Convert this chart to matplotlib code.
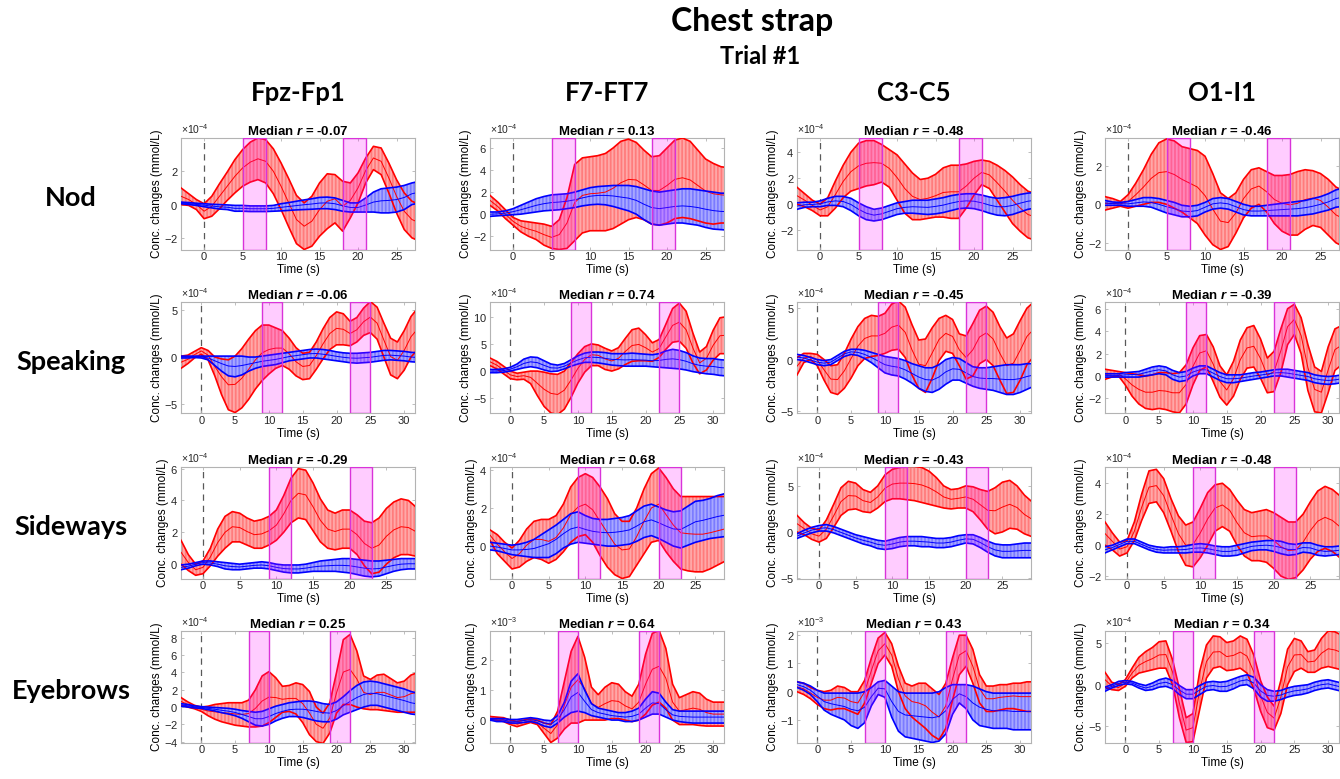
import numpy as np
import matplotlib.pyplot as plt

plt.rcParams['font.family'] = ['Liberation Sans', 'DejaVu Sans']
plt.rcParams['axes.unicode_minus'] = False
plt.rcParams['mathtext.fontset'] = 'custom'
plt.rcParams['mathtext.rm'] = 'Liberation Sans'
plt.rcParams['mathtext.it'] = 'Liberation Sans:italic:bold'
plt.rcParams['hatch.linewidth'] = 0.5

# time grids (s)
t_nod = np.arange(-3, 29)
t_speak = np.arange(-3, 33)
t_side = np.arange(-3, 30)
t_brow = np.arange(-3, 33)

# ---- Nod (x1e-4) ----
nod_fpz_red_lo = [0.0, -0.05, -0.3, -0.85, -0.7, -0.25, 0.25, 0.7, 1.1, 1.35, 1.5, 1.3, 0.65, -0.3, -1.35, -2.35, -2.7, -2.5, -1.9, -1.45, -1.1, -1.6, -0.8, 0.1, 1.3, 2.1, 1.8, 0.7, -0.5, -1.5, -2.0, -2.2]
nod_fpz_red_hi = [1.0, 0.65, 0.3, 0.05, 0.5, 1.25, 1.95, 2.7, 3.3, 3.75, 4.0, 3.9, 3.35, 2.5, 1.55, 0.55, 0.1, 0.5, 1.3, 1.85, 1.8, 1.4, 1.3, 1.9, 2.8, 3.5, 3.4, 2.5, 1.5, 0.7, 0.2, 0.0]
nod_fpz_blue_lo = [0.05, 0.0, -0.05, -0.13, -0.2, -0.27, -0.3, -0.4, -0.4, -0.42, -0.42, -0.42, -0.4, -0.38, -0.35, -0.32, -0.3, -0.28, -0.25, -0.25, -0.3, -0.4, -0.45, -0.45, -0.45, -0.45, -0.5, -0.5, -0.45, -0.3, 0.0, 0.1]
nod_fpz_blue_hi = [0.15, 0.12, 0.08, 0.05, 0.02, 0.0, -0.02, -0.05, -0.05, -0.08, -0.08, -0.08, -0.05, 0.05, 0.12, 0.2, 0.28, 0.35, 0.43, 0.45, 0.4, 0.25, 0.1, 0.1, 0.4, 0.75, 0.95, 1.0, 1.05, 1.15, 1.3, 1.4]

nod_f7_red_lo = [0.8, 0.3, -0.4, -1.0, -1.6, -2.0, -2.3, -2.8, -3.1, -3.2, -3.1, -2.4, -1.7, -1.5, -1.5, -1.5, -1.3, -0.9, -0.5, -0.3, -0.5, -0.9, -1.0, -0.8, -0.4, -0.3, -0.4, -0.6, -0.8, -0.9, -0.8, -0.8]
nod_f7_red_hi = [1.7, 1.1, 0.4, -0.3, -0.6, -0.7, -0.8, -0.9, -1.1, -0.5, 1.5, 4.5, 5.1, 5.2, 5.3, 5.5, 6.0, 6.6, 6.8, 6.5, 5.8, 5.2, 5.3, 6.0, 6.7, 6.9, 6.6, 5.8, 5.0, 4.6, 4.3, 4.2]
nod_f7_blue_lo = [-0.2, -0.15, -0.1, -0.05, 0.0, 0.1, 0.2, 0.3, 0.35, 0.4, 0.5, 0.6, 0.75, 0.85, 0.9, 0.85, 0.7, 0.5, 0.3, 0.0, -0.5, -0.9, -1.0, -0.9, -0.8, -0.8, -0.9, -1.0, -1.2, -1.35, -1.4, -1.45]
nod_f7_blue_hi = [0.2, 0.2, 0.3, 0.5, 0.8, 1.1, 1.4, 1.6, 1.75, 1.8, 1.85, 2.0, 2.2, 2.4, 2.5, 2.55, 2.6, 2.6, 2.6, 2.5, 2.3, 2.1, 2.0, 2.1, 2.2, 2.3, 2.3, 2.2, 2.1, 2.0, 1.9, 1.9]

nod_c3_red_lo = [0.0, -0.2, -0.5, -0.9, -0.9, -0.3, 0.5, 1.0, 1.2, 1.4, 1.5, 1.7, 1.3, 0.3, -0.7, -1.2, -1.2, -1.1, -1.0, -1.0, -1.1, -1.1, -0.3, 0.7, 1.5, 1.2, 0.3, -0.6, -1.5, -2.1, -2.6, -2.8]
nod_c3_red_hi = [1.3, 0.8, 0.3, 0.0, 0.5, 1.8, 3.0, 4.0, 4.7, 4.9, 4.9, 4.6, 4.2, 3.8, 3.1, 2.4, 1.9, 2.0, 2.3, 2.8, 3.0, 3.0, 3.1, 3.3, 3.4, 3.3, 3.0, 2.6, 2.1, 1.5, 1.0, 0.8]
nod_c3_blue_lo = [-0.4, -0.25, -0.2, -0.2, -0.1, -0.1, -0.2, -0.5, -0.9, -1.2, -1.3, -1.2, -1.0, -0.8, -0.7, -0.7, -0.75, -0.8, -0.75, -0.65, -0.5, -0.35, -0.3, -0.35, -0.5, -0.7, -0.85, -0.9, -0.8, -0.6, -0.4, -0.3]
nod_c3_blue_hi = [0.1, 0.15, 0.15, 0.25, 0.45, 0.6, 0.6, 0.45, 0.1, -0.2, -0.4, -0.3, -0.1, 0.1, 0.2, 0.3, 0.3, 0.3, 0.4, 0.5, 0.65, 0.75, 0.8, 0.8, 0.7, 0.55, 0.45, 0.5, 0.6, 0.75, 0.85, 0.9]

nod_o1_red_lo = [-0.3, -0.2, -0.1, -0.2, -0.1, 0.0, 0.1, 0.1, 0.0, -0.2, -0.4, -0.7, -1.0, -1.6, -2.1, -2.35, -2.2, -1.5, -0.7, -0.2, 0.0, -0.4, -1.0, -1.4, -1.6, -1.6, -1.3, -1.1, -1.2, -1.6, -2.0, -2.2]
nod_o1_red_hi = [0.4, 0.3, 0.15, 0.5, 1.1, 1.8, 2.6, 3.2, 3.4, 3.3, 3.0, 2.9, 2.8, 2.5, 1.6, 0.6, 0.3, 0.6, 1.3, 1.8, 1.9, 1.7, 1.5, 1.5, 1.55, 1.7, 1.8, 1.75, 1.6, 1.3, 0.9, 0.7]
nod_o1_blue_lo = [-0.05, -0.05, -0.05, -0.1, -0.1, -0.1, -0.15, -0.3, -0.45, -0.55, -0.65, -0.65, -0.6, -0.4, -0.25, -0.2, -0.25, -0.4, -0.55, -0.6, -0.6, -0.6, -0.6, -0.6, -0.6, -0.6, -0.55, -0.5, -0.4, -0.3, -0.15, -0.1]
nod_o1_blue_hi = [0.2, 0.12, 0.1, 0.15, 0.25, 0.35, 0.35, 0.3, 0.2, 0.1, -0.05, -0.1, -0.05, 0.1, 0.3, 0.35, 0.3, 0.15, 0.0, -0.1, -0.1, -0.05, 0.0, 0.05, 0.1, 0.15, 0.2, 0.3, 0.4, 0.55, 0.75, 0.85]

# ---- Speaking (x1e-4) ----
speak_fpz_red_lo = [-1.2, -0.7, -0.1, 0.3, -0.3, -2.0, -4.0, -5.6, -5.9, -5.4, -4.5, -3.4, -2.5, -1.8, -1.2, -0.9, -1.3, -2.0, -2.4, -2.3, -1.3, -0.2, 0.8, 1.3, 1.3, 1.2, 1.6, 2.3, 2.6, 1.9, 0.0, -1.9, -2.3, -1.4, 0.0, 0.8]
speak_fpz_red_hi = [0.1, 0.2, 0.6, 1.0, 0.7, 0.0, -0.2, -0.3, 0.1, 0.9, 1.9, 2.8, 3.4, 3.4, 3.1, 2.8, 2.0, 1.0, 0.4, 0.5, 1.6, 3.0, 4.2, 4.8, 4.6, 3.8, 4.2, 5.2, 5.9, 5.3, 3.6, 2.0, 1.6, 2.8, 4.3, 5.2]
speak_fpz_blue_lo = [-0.1, -0.1, -0.05, -0.1, -0.3, -0.9, -1.5, -2.0, -2.1, -1.9, -1.5, -1.2, -1.0, -0.9, -0.8, -0.6, -0.4, -0.3, -0.2, -0.1, -0.1, -0.2, -0.3, -0.4, -0.5, -0.6, -0.65, -0.6, -0.55, -0.45, -0.35, -0.3, -0.35, -0.4, -0.5, -0.55]
speak_fpz_blue_hi = [0.1, 0.1, 0.1, 0.1, 0.1, 0.1, 0.1, 0.1, 0.1, 0.1, 0.0, 0.0, 0.1, 0.2, 0.3, 0.4, 0.5, 0.6, 0.7, 0.8, 0.85, 0.8, 0.7, 0.55, 0.45, 0.4, 0.4, 0.45, 0.5, 0.6, 0.7, 0.7, 0.65, 0.6, 0.5, 0.45]

speak_f7_red_lo = [1.0, 0.4, -0.5, -1.4, -1.6, -1.5, -2.3, -4.5, -6.5, -7.7, -8.0, -7.0, -4.8, -2.2, -0.2, 1.0, 1.0, 0.3, 0.0, 0.4, 1.2, 1.8, 1.9, 1.9, 1.8, 2.5, 4.0, 5.3, 5.5, 4.2, 1.5, -0.5, 0.2, 2.0, 3.2, 3.2]
speak_f7_red_hi = [2.4, 1.8, 0.9, 0.0, -0.4, -0.2, 0.0, 0.0, -0.2, -0.5, -0.6, 0.0, 1.6, 3.2, 4.5, 5.0, 4.8, 4.2, 3.7, 4.3, 6.0, 7.6, 7.9, 6.7, 5.2, 5.8, 8.6, 11.5, 12.5, 11.0, 7.0, 3.5, 4.5, 7.5, 9.8, 10.0]
speak_f7_blue_lo = [-0.3, -0.3, -0.2, 0.0, 0.3, 0.6, 0.8, 0.6, 0.2, -0.1, 0.0, 0.4, 0.9, 1.3, 1.6, 1.6, 1.5, 1.3, 1.1, 1.0, 0.9, 0.9, 0.9, 0.9, 0.8, 0.7, 0.6, 0.5, 0.4, 0.2, -0.1, -0.3, -0.5, -0.6, -0.8, -0.9]
speak_f7_blue_hi = [0.3, 0.3, 0.4, 0.7, 1.3, 2.2, 2.6, 2.5, 1.9, 1.3, 1.1, 1.4, 2.1, 2.8, 3.3, 3.5, 3.5, 3.4, 3.2, 3.2, 3.2, 3.3, 3.2, 3.1, 3.0, 3.2, 3.7, 4.0, 3.8, 3.4, 2.8, 2.4, 2.3, 2.3, 2.1, 2.0]

speak_c3_red_lo = [-1.5, -0.3, 0.0, -0.6, -2.0, -3.2, -3.4, -2.8, -1.8, -0.6, 0.1, 0.3, 0.4, 0.6, 0.9, 1.0, 0.2, -1.5, -2.8, -3.2, -1.8, -0.1, 0.8, 0.6, -0.6, -1.9, -1.6, -0.4, 0.0, -0.6, -2.0, -3.3, -3.2, -2.0, -0.5, 0.3]
speak_c3_red_hi = [0.2, 0.6, 0.6, 0.5, 0.0, -0.6, -0.5, 0.6, 2.0, 3.2, 4.0, 4.3, 4.2, 4.5, 5.4, 5.7, 5.1, 3.4, 1.9, 2.0, 3.1, 4.0, 4.3, 3.9, 2.5, 2.3, 3.5, 4.8, 5.2, 4.6, 3.2, 2.1, 2.5, 3.8, 5.0, 5.6]
speak_c3_blue_lo = [0.0, -0.1, -0.3, -0.5, -0.6, -0.5, -0.1, 0.3, 0.5, 0.4, 0.1, -0.3, -0.8, -1.3, -1.5, -1.6, -1.9, -2.3, -2.8, -3.1, -3.2, -2.9, -2.4, -2.0, -2.0, -2.3, -2.6, -2.8, -2.9, -3.0, -3.2, -3.4, -3.4, -3.2, -2.9, -2.6]
speak_c3_blue_hi = [0.5, 0.4, 0.2, 0.0, -0.1, 0.0, 0.4, 0.8, 1.0, 1.0, 0.9, 0.7, 0.5, 0.3, 0.2, 0.1, -0.1, -0.4, -0.6, -0.8, -0.8, -0.5, 0.0, 0.2, 0.1, -0.3, -0.7, -0.8, -0.8, -0.7, -0.6, -0.5, -0.5, -0.5, -0.4, -0.4]

speak_o1_red_lo = [-0.3, -0.1, 0.0, -0.8, -1.8, -2.5, -2.9, -3.0, -2.9, -3.0, -3.2, -3.3, -2.5, -0.8, 0.5, 0.8, -0.5, -1.9, -2.6, -1.8, -0.3, 0.7, 0.8, -0.2, -1.5, -1.4, 0.3, 2.8, 3.7, 2.0, -1.3, -3.2, -3.3, -1.5, 0.5, 1.0]
speak_o1_red_hi = [0.6, 0.5, 0.4, 0.3, 0.2, 0.1, 0.0, 0.1, 0.3, 0.3, 0.2, 0.3, 1.0, 2.5, 3.6, 3.7, 2.6, 0.9, 0.1, 1.3, 3.2, 4.3, 4.5, 3.3, 1.6, 2.2, 4.2, 6.0, 6.4, 5.2, 2.8, 0.8, 0.4, 2.6, 4.2, 4.5]
speak_o1_blue_lo = [-0.1, -0.1, -0.1, -0.1, -0.1, -0.1, 0.0, 0.1, 0.2, 0.1, -0.3, -0.5, -0.4, 0.0, 0.2, 0.2, -0.1, -0.4, -0.6, -0.6, -0.5, -0.4, -0.3, -0.2, -0.1, 0.0, 0.0, -0.1, -0.2, -0.3, -0.4, -0.6, -0.7, -0.75, -0.7, -0.6]
speak_o1_blue_hi = [0.2, 0.2, 0.2, 0.3, 0.35, 0.4, 0.6, 0.8, 0.9, 0.8, 0.5, 0.3, 0.4, 0.7, 0.9, 0.9, 0.6, 0.3, 0.1, 0.1, 0.1, 0.2, 0.3, 0.35, 0.45, 0.55, 0.6, 0.6, 0.5, 0.4, 0.3, 0.1, 0.0, -0.05, 0.0, 0.1]

# ---- Sideways (x1e-4) ----
side_fpz_red_lo = [0.0, -0.4, -0.7, -0.6, -0.1, 0.5, 1.0, 1.4, 1.4, 1.2, 1.0, 1.0, 1.2, 1.5, 2.0, 2.6, 2.9, 2.8, 2.1, 1.4, 1.0, 0.9, 1.0, 1.0, 0.6, -0.1, -0.6, -0.5, 0.0, 0.4, 0.6, 0.6, 0.5]
side_fpz_red_hi = [1.5, 0.6, 0.0, 0.2, 1.0, 2.2, 3.0, 3.3, 3.2, 2.9, 2.7, 2.8, 3.0, 3.4, 4.3, 5.4, 6.0, 5.9, 5.1, 4.1, 3.4, 3.2, 3.4, 3.4, 3.1, 2.7, 2.6, 2.9, 3.5, 3.9, 4.1, 4.0, 3.6]
side_fpz_blue_lo = [-0.35, -0.25, -0.1, 0.0, -0.05, -0.15, -0.3, -0.35, -0.35, -0.3, -0.25, -0.25, -0.3, -0.4, -0.5, -0.55, -0.55, -0.5, -0.45, -0.45, -0.45, -0.45, -0.5, -0.55, -0.65, -0.75, -0.8, -0.75, -0.6, -0.45, -0.35, -0.3, -0.3]
side_fpz_blue_hi = [-0.05, 0.0, 0.1, 0.2, 0.2, 0.15, 0.1, 0.05, 0.0, 0.05, 0.1, 0.15, 0.1, 0.0, -0.05, -0.05, -0.05, 0.0, 0.1, 0.2, 0.25, 0.3, 0.35, 0.35, 0.3, 0.25, 0.2, 0.2, 0.25, 0.3, 0.35, 0.35, 0.35]

side_f7_red_lo = [0.3, -0.4, -0.8, -1.2, -1.1, -0.8, -0.6, -0.7, -0.9, -0.7, -0.3, 0.2, 0.5, 0.6, 0.2, -0.5, -1.1, -1.5, -1.7, -1.6, -1.0, -0.4, 0.2, 0.3, -0.3, -0.8, -1.2, -1.3, -1.35, -1.35, -1.2, -1.0, -0.8]
side_f7_red_hi = [0.85, 0.6, 0.2, -0.1, 0.3, 0.9, 1.3, 1.4, 1.4, 1.6, 2.2, 3.1, 3.6, 3.8, 3.6, 3.1, 2.5, 1.7, 1.3, 1.3, 2.0, 3.0, 3.8, 4.1, 3.6, 3.0, 2.6, 2.6, 2.6, 2.6, 2.6, 2.6, 2.6]
side_f7_blue_lo = [-0.2, -0.25, -0.35, -0.45, -0.5, -0.55, -0.6, -0.6, -0.6, -0.4, -0.1, 0.1, 0.2, 0.15, 0.1, 0.05, 0.0, 0.0, 0.05, 0.1, 0.25, 0.45, 0.55, 0.4, 0.2, 0.0, -0.1, 0.05, 0.2, 0.3, 0.4, 0.45, 0.5]
side_f7_blue_hi = [0.2, 0.15, 0.1, 0.05, 0.1, 0.2, 0.35, 0.6, 0.85, 1.1, 1.4, 1.7, 1.8, 1.6, 1.45, 1.4, 1.4, 1.45, 1.5, 1.6, 1.85, 2.1, 2.2, 2.05, 1.9, 1.8, 1.85, 2.1, 2.35, 2.4, 2.5, 2.65, 2.75]

side_c3_red_lo = [0.0, -0.3, -0.8, -1.1, -0.7, 0.5, 1.8, 2.4, 2.5, 2.2, 2.1, 2.6, 3.3, 3.6, 3.6, 3.5, 3.4, 3.2, 3.0, 2.8, 2.6, 2.5, 2.6, 2.6, 2.2, 1.3, 0.3, -0.2, 0.0, 0.4, 0.3, -0.2, -0.5]
side_c3_red_hi = [1.8, 1.0, 0.4, 0.2, 1.3, 3.0, 4.8, 5.5, 5.3, 4.6, 4.3, 5.0, 6.2, 6.8, 7.0, 7.1, 7.1, 7.0, 6.6, 5.9, 5.0, 4.6, 4.7, 5.0, 4.9, 4.6, 4.4, 4.8, 5.4, 5.6, 5.0, 4.0, 3.3]
side_c3_blue_lo = [-0.7, -0.4, -0.1, 0.1, 0.1, -0.1, -0.4, -0.7, -1.0, -1.3, -1.5, -1.8, -1.9, -1.8, -1.6, -1.5, -1.5, -1.6, -1.6, -1.7, -1.7, -1.6, -1.4, -1.2, -1.3, -1.7, -2.2, -2.6, -2.8, -2.8, -2.8, -2.8, -2.8]
side_c3_blue_hi = [-0.2, 0.2, 0.5, 0.7, 0.8, 0.6, 0.3, 0.0, -0.3, -0.5, -0.7, -0.9, -1.0, -0.8, -0.6, -0.5, -0.5, -0.5, -0.6, -0.7, -0.7, -0.6, -0.4, -0.3, -0.3, -0.6, -1.0, -1.3, -1.4, -1.4, -1.3, -1.2, -1.2]

side_o1_red_lo = [0.0, -0.3, -0.7, -0.5, 0.3, 1.6, 2.7, 2.8, 2.1, 0.9, -0.4, -1.3, -1.4, -0.8, 0.0, 0.9, 1.2, 0.9, 0.0, -0.7, -1.0, -1.0, -1.1, -1.5, -2.0, -2.2, -2.1, -1.6, -0.9, -0.4, -0.2, -0.4, -0.8]
side_o1_red_hi = [1.5, 0.8, 0.2, 0.3, 1.5, 3.3, 4.8, 4.9, 4.3, 3.0, 1.9, 1.3, 1.5, 2.4, 3.4, 3.9, 4.0, 3.6, 2.9, 2.3, 2.1, 2.2, 2.3, 2.1, 1.8, 1.5, 1.5, 2.0, 2.8, 3.5, 3.8, 3.6, 3.2]
side_o1_blue_lo = [-0.5, -0.3, -0.1, 0.1, 0.1, -0.1, -0.3, -0.45, -0.5, -0.5, -0.5, -0.5, -0.45, -0.45, -0.5, -0.6, -0.7, -0.7, -0.65, -0.5, -0.35, -0.3, -0.3, -0.4, -0.55, -0.65, -0.6, -0.45, -0.5, -0.65, -0.7, -0.65, -0.6]
side_o1_blue_hi = [-0.1, 0.0, 0.2, 0.4, 0.4, 0.2, 0.0, -0.1, -0.15, -0.1, -0.1, -0.05, 0.05, 0.1, 0.05, -0.05, -0.1, -0.1, 0.0, 0.1, 0.2, 0.25, 0.3, 0.3, 0.25, 0.1, 0.05, 0.15, 0.15, 0.0, -0.1, -0.1, -0.05]

# ---- Eyebrows (x1e-4, F7-FT7 and C3-C5 x1e-3) ----
brow_fpz_red_lo = [0.2, 0.0, -0.2, -0.5, -1.0, -1.4, -1.7, -1.9, -2.1, -2.2, -2.3, -2.3, -2.2, -1.8, -1.2, -0.6, -0.5, -0.8, -1.8, -3.2, -4.0, -4.2, -3.0, -0.7, 0.3, 0.3, 0.0, -0.2, -0.3, -0.3, -0.4, -0.5, -0.6, -0.6, -0.6, -0.6]
brow_fpz_red_hi = [1.1, 0.6, 0.2, 0.0, 0.1, 0.3, 0.4, 0.5, 0.5, 0.5, 0.8, 2.0, 3.6, 4.1, 3.4, 2.4, 2.5, 2.8, 2.6, 1.8, 0.0, -0.7, 0.5, 4.0, 7.8, 8.4, 6.5, 3.6, 3.2, 3.7, 3.8, 3.3, 2.8, 3.0, 3.7, 4.0]
brow_fpz_blue_lo = [0.1, 0.0, -0.1, -0.15, -0.3, -0.45, -0.65, -0.8, -1.0, -1.3, -1.7, -2.1, -2.2, -2.0, -1.6, -1.3, -1.1, -1.1, -1.2, -1.4, -1.6, -1.7, -1.7, -1.4, -0.9, -0.6, -0.3, 0.0, 0.2, 0.2, 0.0, -0.2, -0.4, -0.6, -0.8, -0.9]
brow_fpz_blue_hi = [0.4, 0.3, 0.15, 0.05, 0.0, -0.05, -0.1, -0.15, -0.25, -0.4, -0.5, -0.6, -0.5, -0.2, 0.1, 0.3, 0.5, 0.6, 0.7, 0.7, 0.6, 0.4, 0.3, 0.6, 1.2, 1.9, 2.5, 2.9, 3.0, 2.9, 2.7, 2.5, 2.3, 2.1, 1.8, 1.6]

brow_f7_red_lo = [0.0, 0.0, -0.05, -0.15, -0.22, -0.15, -0.08, -0.15, -0.45, -0.75, -0.6, -0.3, -0.1, -0.1, 0.0, 0.0, 0.0, 0.0, 0.05, 0.05, 0.0, -0.05, 0.0, 0.2, 0.5, 0.6, 0.4, 0.0, -0.15, -0.15, -0.15, -0.18, -0.2, -0.2, -0.2, -0.2]
brow_f7_red_hi = [0.12, 0.1, 0.08, 0.0, -0.05, 0.0, 0.05, 0.0, -0.1, -0.15, 0.3, 1.3, 2.3, 2.8, 2.1, 1.1, 0.85, 1.1, 1.25, 1.2, 0.95, 0.8, 1.2, 2.2, 2.9, 3.0, 2.4, 1.2, 0.75, 0.85, 0.95, 0.9, 0.7, 0.6, 0.6, 0.6]
brow_f7_blue_lo = [0.0, -0.05, -0.05, -0.1, -0.1, -0.08, -0.05, -0.1, -0.2, -0.25, -0.1, 0.1, 0.25, 0.3, 0.25, 0.15, 0.1, 0.05, 0.0, 0.0, -0.05, -0.05, 0.0, 0.1, 0.2, 0.2, 0.1, 0.0, -0.05, -0.08, -0.1, -0.1, -0.1, -0.1, -0.1, -0.1]
brow_f7_blue_hi = [0.05, 0.05, 0.05, 0.02, 0.02, 0.05, 0.08, 0.05, 0.0, -0.02, 0.15, 0.6, 1.3, 1.55, 1.0, 0.55, 0.4, 0.35, 0.3, 0.25, 0.25, 0.3, 0.4, 0.7, 0.95, 0.9, 0.6, 0.35, 0.3, 0.3, 0.3, 0.3, 0.3, 0.3, 0.3, 0.3]

brow_c3_red_lo = [0.0, -0.1, -0.25, -0.45, -0.6, -0.65, -0.6, -0.6, -0.7, -0.8, -0.4, 0.3, 1.0, 1.3, 0.9, 0.0, -0.6, -0.9, -1.1, -1.3, -1.55, -1.7, -1.3, -0.3, 0.6, 0.9, 0.3, -0.4, -0.7, -0.7, -0.65, -0.6, -0.6, -0.65, -0.7, -0.7]
brow_c3_red_hi = [0.35, 0.3, 0.15, 0.05, 0.0, 0.05, 0.2, 0.15, 0.0, 0.0, 0.4, 1.2, 1.9, 2.1, 1.7, 0.9, 0.3, 0.2, 0.3, 0.3, 0.1, -0.1, 0.3, 1.2, 2.0, 2.0, 1.5, 0.6, 0.2, 0.2, 0.25, 0.25, 0.3, 0.3, 0.35, 0.35]
brow_c3_blue_lo = [0.15, 0.05, -0.1, -0.35, -0.65, -0.8, -0.9, -1.0, -1.2, -1.3, -1.1, -0.5, -0.1, -0.2, -0.9, -1.4, -1.6, -1.65, -1.7, -1.75, -1.8, -1.75, -1.5, -0.8, -0.4, -0.6, -1.0, -1.2, -1.25, -1.3, -1.3, -1.3, -1.35, -1.35, -1.35, -1.35]
brow_c3_blue_hi = [0.35, 0.3, 0.2, 0.05, -0.05, -0.05, -0.05, -0.05, -0.05, -0.05, 0.0, 0.15, 0.35, 0.4, 0.2, 0.0, -0.05, -0.05, -0.05, -0.05, -0.05, 0.0, 0.15, 0.25, 0.25, 0.25, 0.2, 0.1, 0.0, -0.05, -0.05, -0.05, -0.05, -0.05, -0.05, -0.05]

brow_o1_red_lo = [-0.3, -0.6, -0.7, -0.2, 0.8, 1.4, 1.6, 1.8, 2.0, 2.0, 0.0, -4.0, -7.0, -6.9, -3.0, 0.8, 2.0, 2.2, 1.7, 1.8, 2.0, 1.4, -0.5, -3.2, -5.2, -5.5, -3.5, 0.0, 1.6, 2.0, 1.5, 1.5, 2.0, 2.2, 2.0, 1.8]
brow_o1_red_hi = [1.5, 0.3, 0.0, 0.6, 2.0, 3.3, 4.0, 4.5, 5.2, 5.3, 3.0, -0.5, -4.0, -3.5, 1.6, 4.8, 5.9, 5.8, 5.1, 5.3, 5.9, 5.5, 3.6, 0.5, -1.5, -2.6, 0.5, 4.3, 5.6, 5.3, 4.0, 4.2, 5.6, 6.5, 6.4, 6.0]
brow_o1_blue_lo = [-0.8, -0.4, -0.1, 0.1, 0.0, -0.4, -0.7, -0.6, -0.3, -0.2, -0.5, -1.2, -1.7, -1.7, -1.2, -0.7, -0.6, -0.8, -0.8, -0.5, -0.1, 0.0, -0.5, -1.5, -2.0, -2.0, -1.8, -1.5, -1.3, -1.2, -1.0, -0.7, -0.5, -0.4, -0.6, -0.8]
brow_o1_blue_hi = [-0.3, 0.0, 0.4, 0.5, 0.4, 0.1, -0.1, 0.2, 0.6, 0.8, 0.5, -0.1, -0.6, -0.6, -0.1, 0.3, 0.4, 0.3, 0.4, 0.7, 1.0, 1.2, 0.9, 0.0, -0.6, -0.8, -0.7, -0.4, -0.2, -0.1, 0.0, 0.3, 0.5, 0.6, 0.4, 0.2]

# labels
channels = ['Fpz-Fp1', 'F7-FT7', 'C3-C5', 'O1-I1']
tasks = ['Nod', 'Speaking', 'Sideways', 'Eyebrows']
median_r = [['-0.07', '0.13', '-0.48', '-0.46'],
            ['-0.06', '0.74', '-0.45', '-0.39'],
            ['-0.29', '0.68', '-0.43', '-0.48'],
            ['0.25', '0.64', '0.43', '0.34']]
ylims = [[(-2.7, 4.0), (-3.2, 6.9), (-3.5, 5.1), (-2.35, 3.45)],
         [(-6.0, 5.85), (-7.8, 12.7), (-5.25, 5.6), (-3.35, 6.6)],
         [(-0.9, 6.1), (-1.7, 4.15), (-5.05, 7.05), (-2.15, 5.05)],
         [(-4.1, 8.8), (-0.75, 2.98), (-1.8, 2.15), (-7.0, 6.5)]]
yticks = [[[-2, 0, 2], [-2, 0, 2, 4, 6], [-2, 0, 2, 4], [-2, 0, 2]],
          [[-5, 0, 5], [-5, 0, 5, 10], [-5, 0, 5], [-2, 0, 2, 4, 6]],
          [[0, 2, 4, 6], [0, 2, 4], [-5, 0, 5], [-2, 0, 2, 4]],
          [[-4, -2, 0, 2, 4, 6, 8], [0, 1, 2], [-1, 0, 1, 2], [-5, 0, 5]]]
exps = [[-4, -4, -4, -4], [-4, -4, -4, -4], [-4, -4, -4, -4], [-4, -3, -3, -4]]

times = [t_nod, t_speak, t_side, t_brow]
xlims = [(-3, 27.4), (-3, 31.6), (-3, 28.9), (-3, 31.6)]
xticks = [range(0, 30, 5), range(0, 35, 5), range(0, 30, 5), range(0, 35, 5)]
windows = [[(5, 8), (18, 21)], [(9, 12), (22, 25)], [(9, 12), (20, 23)], [(7, 10), (19, 22)]]

bands = [
    [(nod_fpz_red_lo, nod_fpz_red_hi, nod_fpz_blue_lo, nod_fpz_blue_hi),
     (nod_f7_red_lo, nod_f7_red_hi, nod_f7_blue_lo, nod_f7_blue_hi),
     (nod_c3_red_lo, nod_c3_red_hi, nod_c3_blue_lo, nod_c3_blue_hi),
     (nod_o1_red_lo, nod_o1_red_hi, nod_o1_blue_lo, nod_o1_blue_hi)],
    [(speak_fpz_red_lo, speak_fpz_red_hi, speak_fpz_blue_lo, speak_fpz_blue_hi),
     (speak_f7_red_lo, speak_f7_red_hi, speak_f7_blue_lo, speak_f7_blue_hi),
     (speak_c3_red_lo, speak_c3_red_hi, speak_c3_blue_lo, speak_c3_blue_hi),
     (speak_o1_red_lo, speak_o1_red_hi, speak_o1_blue_lo, speak_o1_blue_hi)],
    [(side_fpz_red_lo, side_fpz_red_hi, side_fpz_blue_lo, side_fpz_blue_hi),
     (side_f7_red_lo, side_f7_red_hi, side_f7_blue_lo, side_f7_blue_hi),
     (side_c3_red_lo, side_c3_red_hi, side_c3_blue_lo, side_c3_blue_hi),
     (side_o1_red_lo, side_o1_red_hi, side_o1_blue_lo, side_o1_blue_hi)],
    [(brow_fpz_red_lo, brow_fpz_red_hi, brow_fpz_blue_lo, brow_fpz_blue_hi),
     (brow_f7_red_lo, brow_f7_red_hi, brow_f7_blue_lo, brow_f7_blue_hi),
     (brow_c3_red_lo, brow_c3_red_hi, brow_c3_blue_lo, brow_c3_blue_hi),
     (brow_o1_red_lo, brow_o1_red_hi, brow_o1_blue_lo, brow_o1_blue_hi)],
]

W, H = 1340, 779
col_x = [181, 490, 797, 1105]
row_top = [138, 302, 467, 631]
ax_w, ax_h = 234, 111.5


def draw_band(ax, t, lo, hi, scale, color, hatch_color, face):
    lo = np.array(lo) * scale
    hi = np.array(hi) * scale
    # dense vertical error bars drawn as a hatch
    ax.fill_between(t, lo, hi, facecolor=face, edgecolor=hatch_color, hatch='|' * 12,
                    linewidth=0, zorder=2)
    ax.plot(t, lo, color=color, lw=1.2, zorder=3)
    ax.plot(t, hi, color=color, lw=1.2, zorder=3)
    ax.plot(t, (lo + hi) / 2, color=color, lw=0.7, zorder=3)


fig = plt.figure(figsize=(W / 100, H / 100), dpi=100)

for r in range(4):
    for c in range(4):
        ax = fig.add_axes([col_x[c] / W, 1 - (row_top[r] + ax_h) / H, ax_w / W, ax_h / H])
        scale = 10.0 ** exps[r][c]
        t = times[r]
        red_lo, red_hi, blue_lo, blue_hi = bands[r][c]

        ax.axvline(0, color='0.35', ls=(0, (5, 4)), lw=0.9, zorder=1)
        draw_band(ax, t, red_lo, red_hi, scale, 'red', (1, 0.35, 0.35), (1, 0.8, 0.8))
        draw_band(ax, t, blue_lo, blue_hi, scale, 'blue', (0.35, 0.35, 1), (0.8, 0.8, 1))
        for a, b in windows[r]:
            ax.axvspan(a, b, facecolor=(1, 0, 1, 0.2), edgecolor=(0.85, 0.2, 0.85),
                       lw=1.0, zorder=4)

        ax.set_xlim(xlims[r])
        ax.set_ylim(ylims[r][c][0] * scale, ylims[r][c][1] * scale)
        ax.set_xticks(list(xticks[r]))
        ax.set_yticks([v * scale for v in yticks[r][c]])
        ax.ticklabel_format(axis='y', style='sci', scilimits=(exps[r][c], exps[r][c]),
                            useMathText=True)
        ax.yaxis.get_offset_text().set_fontsize(7.5)
        ax.yaxis.get_offset_text().set_color('0.3')

        for sp in ax.spines.values():
            sp.set_color('0.7')
            sp.set_linewidth(0.8)
        ax.tick_params(direction='in', length=2.5, width=0.6, colors='0.7',
                       labelcolor='0.15', labelsize=8, top=True, right=True, pad=2)

        ax.set_title(f'Median $\\it{{r}}$ = {median_r[r][c]}', fontsize=9.5,
                     fontweight='bold', pad=2)
        ax.set_ylabel('Conc. changes (mmol/L)', fontsize=8.5, labelpad=1)
        ax.set_xlabel('Time (s)', fontsize=8.5, labelpad=1)

# headers
fig.text(752 / W, 1 - 22 / H, 'Chest strap', ha='center', va='center',
         fontsize=23, fontweight='bold', family='Lato')
fig.text(760 / W, 1 - 56 / H, 'Trial #1', ha='center', va='center',
         fontsize=17, fontweight='bold', family='Lato')
for c, name in enumerate(channels):
    fig.text((col_x[c] + ax_w / 2) / W, 1 - 93 / H, name, ha='center', va='center',
             fontsize=18.5, fontweight='bold', family='Lato')
for r, name in enumerate(tasks):
    fig.text(71 / W, 1 - (row_top[r] + ax_h / 2 + 4) / H, name, ha='center', va='center',
             fontsize=19.5, fontweight='bold', family='Lato')

fig.savefig('out.png', dpi=100)
